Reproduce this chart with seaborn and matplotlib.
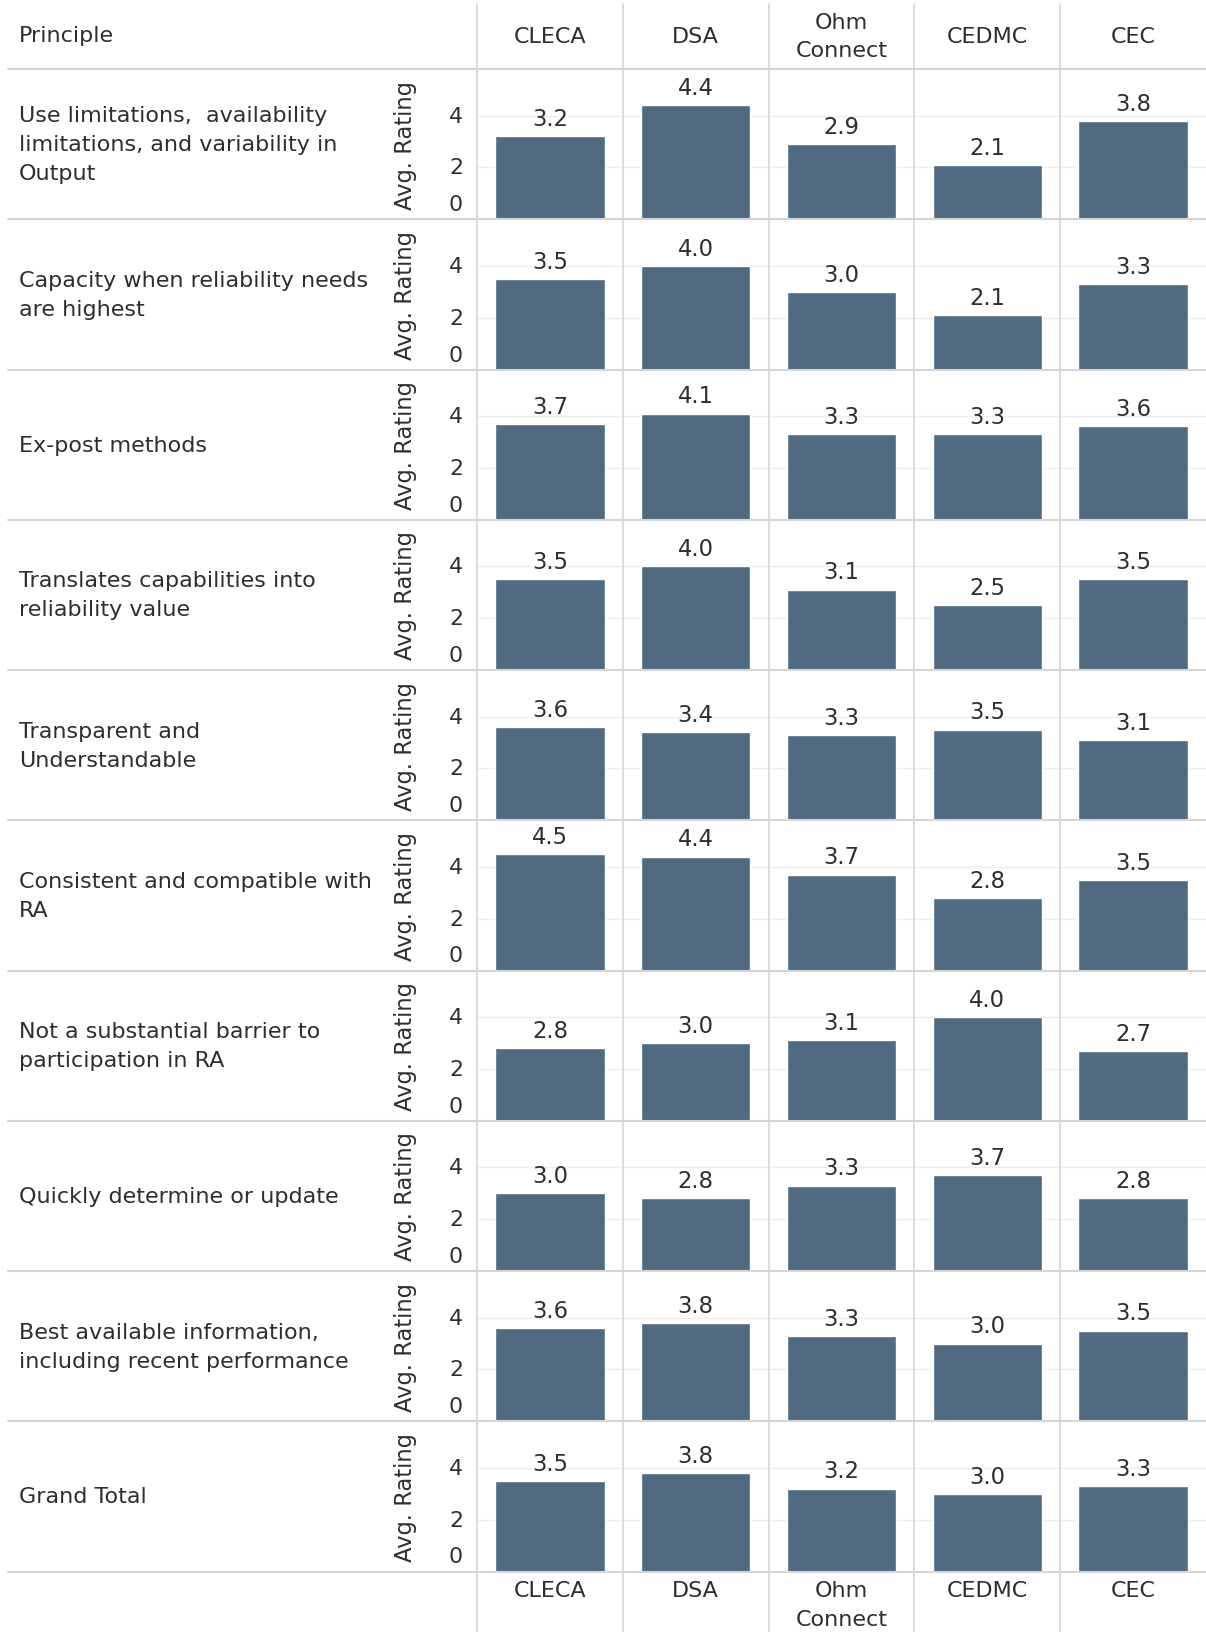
import matplotlib
matplotlib.use("Agg")
import matplotlib.pyplot as plt
import matplotlib.transforms as mtransforms
from matplotlib.lines import Line2D
import seaborn as sns
import pandas as pd

# ---------------- data ----------------
companies = ["CLECA", "DSA", "Ohm\nConnect", "CEDMC", "CEC"]
principles = [
    "Use limitations,  availability\nlimitations, and variability in\nOutput",
    "Capacity when reliability needs\nare highest",
    "Ex-post methods",
    "Translates capabilities into\nreliability value",
    "Transparent and\nUnderstandable",
    "Consistent and compatible with\nRA",
    "Not a substantial barrier to\nparticipation in RA",
    "Quickly determine or update",
    "Best available information,\nincluding recent performance",
    "Grand Total",
]
use_limitations = [3.2, 4.4, 2.9, 2.1, 3.8]
capacity_when_needed = [3.5, 4.0, 3.0, 2.1, 3.3]
ex_post_methods = [3.7, 4.1, 3.3, 3.3, 3.6]
translates_capabilities = [3.5, 4.0, 3.1, 2.5, 3.5]
transparent = [3.6, 3.4, 3.3, 3.5, 3.1]
consistent_with_ra = [4.5, 4.4, 3.7, 2.8, 3.5]
not_a_barrier = [2.8, 3.0, 3.1, 4.0, 2.7]
quickly_update = [3.0, 2.8, 3.3, 3.7, 2.8]
best_information = [3.6, 3.8, 3.3, 3.0, 3.5]
grand_total = [3.5, 3.8, 3.2, 3.0, 3.3]
rating_ticks = [0, 2, 4]
y_label = "Avg. Rating"
header_label = "Principle"

series = [use_limitations, capacity_when_needed, ex_post_methods,
          translates_capabilities, transparent, consistent_with_ra,
          not_a_barrier, quickly_update, best_information, grand_total]

rows = []
for p, vals in zip(principles, series):
    for c, v in zip(companies, vals):
        rows.append({"principle": p, "company": c, "rating": v})
df = pd.DataFrame(rows)

# ---------------- style ----------------
sns.set_theme(style="white")
plt.rcParams["font.family"] = ["DejaVu Sans"]
TXT = "#2e2e2e"
BAR = "#506a82"
LINE = "#d6d6d6"
GRID = "#eeeeee"

W, H = 1206, 1633
DPI = 100
fig = plt.figure(figsize=(W / DPI, H / DPI), dpi=DPI)
fig.patch.set_facecolor("white")

header_bottom = 70
row_h = 150.25
pane_left = 477
LS = 1.56

axes = []
for i, p in enumerate(principles):
    top = header_bottom + i * row_h
    ax = fig.add_axes([pane_left / W, 1 - (top + row_h) / H, 1 - pane_left / W, row_h / H])
    sub = df[df["principle"] == p]
    sns.barplot(data=sub, x="company", y="rating", order=companies, color=BAR,
                saturation=1, width=0.75, errorbar=None, ax=ax)
    ax.set_xlim(-0.5, len(companies) - 0.5)
    ax.set_ylim(0, 5.8)
    ax.set_yticks(rating_ticks)
    ax.set_yticklabels([])
    ax.set_xticks([])
    ax.set_xlabel("")
    ax.tick_params(length=0)
    ax.yaxis.grid(True, color=GRID, lw=1)
    ax.set_axisbelow(True)
    for s in ax.spines.values():
        s.set_visible(False)
    ax.set_ylabel(y_label, fontsize=16.3, color=TXT)
    ax.yaxis.set_label_coords(-0.082, 0.5)
    for t in rating_ticks:
        dy = 15 if t == 0 else 0
        ax.annotate(str(t), xy=(0, t), xycoords=("axes fraction", "data"),
                    xytext=(-14, dy), textcoords="offset pixels",
                    ha="right", va="center", fontsize=15.8, color=TXT)
    ax.bar_label(ax.containers[0], fmt="%.1f", padding=4.5, fontsize=16.3, color=TXT)
    # row label
    fig.text(19 / W, 1 - (top + row_h / 2) / H, p, ha="left", va="center",
             fontsize=16, color=TXT, linespacing=LS)
    axes.append(ax)

ax0 = axes[0]
bt = mtransforms.blended_transform_factory(ax0.transData, fig.transFigure)

# header texts
fig.text(19 / W, 1 - 36 / H, header_label, ha="left", va="center", fontsize=16, color=TXT)
for j, c in enumerate(companies):
    ax0.text(j, 1 - 37 / H, c, transform=bt, ha="center", va="center",
             fontsize=16, color=TXT, linespacing=LS)
    ax0.text(j, 1 - 1581 / H, c, transform=bt, ha="center", va="top",
             fontsize=16, color=TXT, linespacing=LS)

# horizontal separators
for i in range(len(principles) + 1):
    y = 1 - (header_bottom + i * row_h) / H
    fig.add_artist(Line2D([8 / W, 1], [y, y], transform=fig.transFigure,
                          color=LINE, lw=1.5))
# vertical separators
for j in range(len(companies)):
    x = j - 0.5
    fig.add_artist(Line2D([x, x], [0, 1 - 5 / H], transform=bt, color=LINE, lw=1.2))

fig.savefig("out.png", dpi=DPI, facecolor="white")
